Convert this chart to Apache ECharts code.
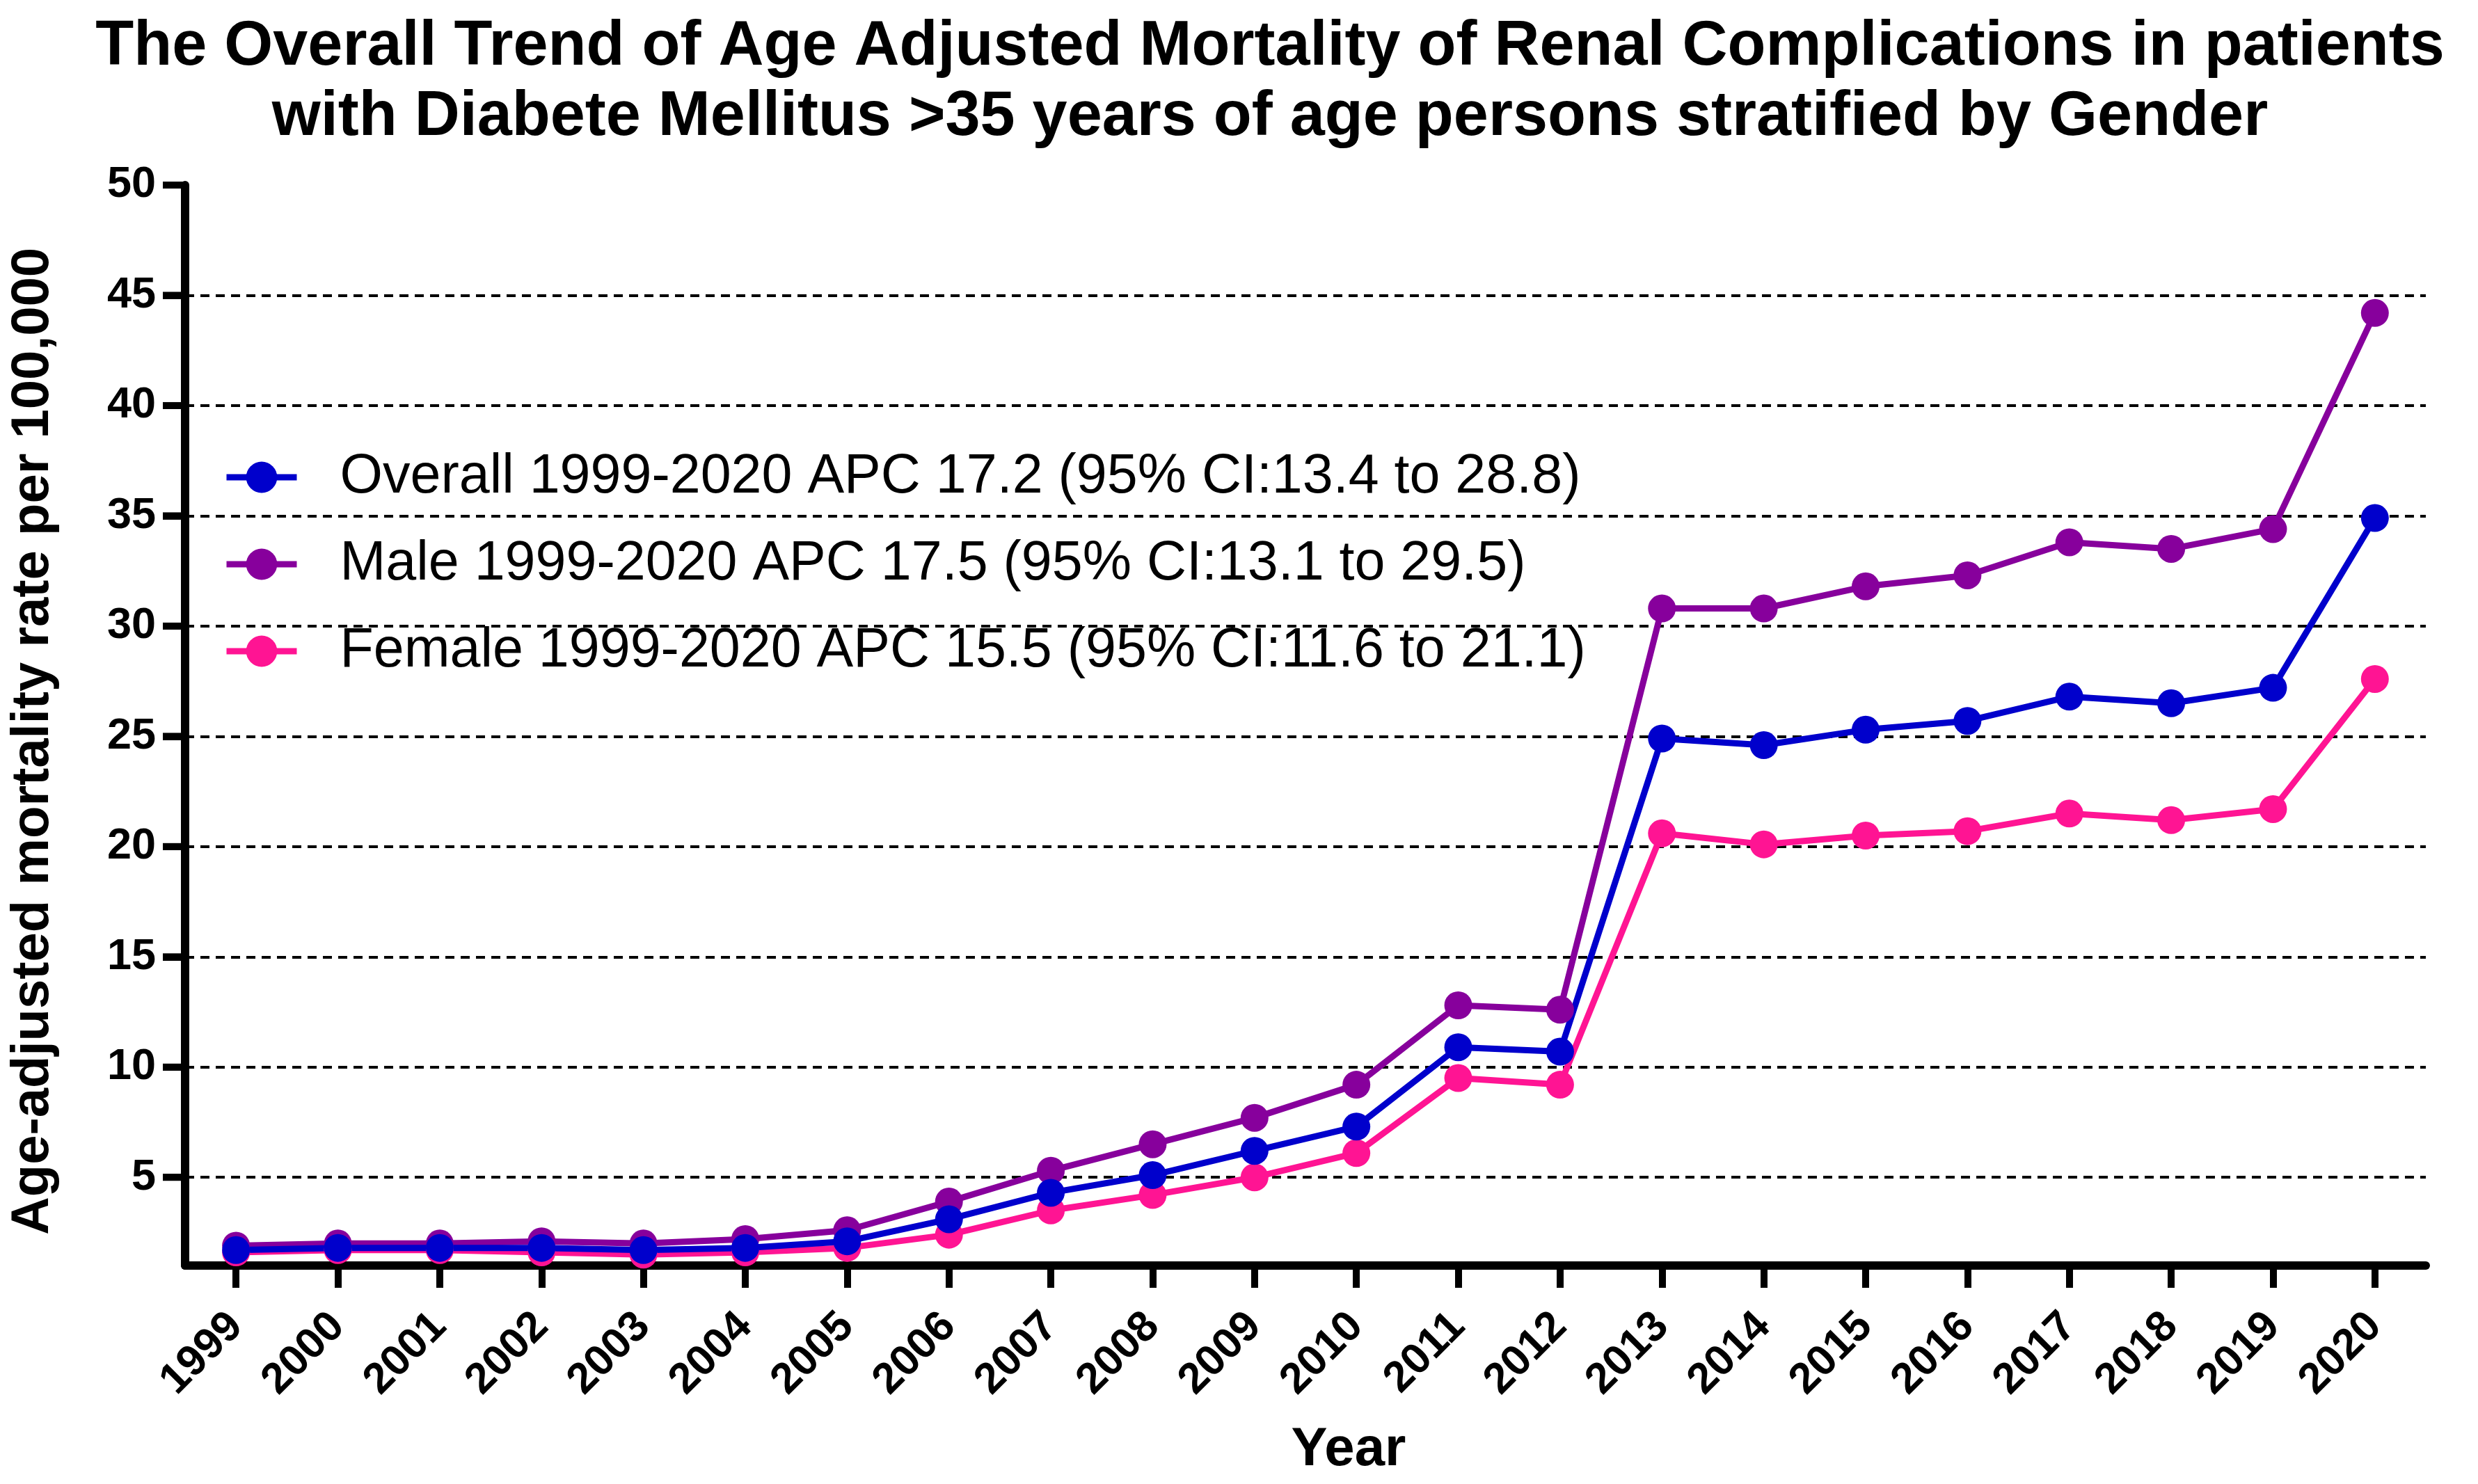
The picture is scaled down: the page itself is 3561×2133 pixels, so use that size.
<!DOCTYPE html>
<html>
<head>
<meta charset="utf-8">
<script src="https://cdn.jsdelivr.net/npm/echarts@6/dist/echarts.min.js"></script>
<style>
html,body{margin:0;padding:0;background:#fff;}
#chart{width:3561px;height:2133px;}
</style>
</head>
<body>
<div id="chart"></div>
<script>
const years = ['1999','2000','2001','2002','2003','2004','2005','2006','2007','2008','2009','2010','2011','2012','2013','2014','2015','2016','2017','2018','2019','2020'];
const overall = [1.7,1.8,1.8,1.8,1.7,1.8,2.1,3.1,4.3,5.1,6.2,7.3,10.9,10.7,24.9,24.6,25.3,25.7,26.8,26.5,27.2,34.9];
const male    = [1.9,2.0,2.0,2.1,2.0,2.2,2.6,3.9,5.3,6.5,7.7,9.2,12.8,12.6,30.8,30.8,31.8,32.3,33.8,33.5,34.4,44.2];
const female  = [1.6,1.7,1.7,1.6,1.5,1.6,1.8,2.4,3.5,4.2,5.0,6.1,9.5,9.2,20.6,20.1,20.5,20.7,21.5,21.2,21.7,27.6];
const yTicks = [5,10,15,20,25,30,35,40,45,50];
const yMin = 1, yMax = 50;
const names = [
  'Overall 1999-2020 APC 17.2 (95% CI:13.4 to 28.8)',
  'Male 1999-2020 APC 17.5 (95% CI:13.1 to 29.5)',
  'Female 1999-2020 APC 15.5 (95% CI:11.6 to 21.1)'
];
const titleLines = [
  'The Overall Trend of Age Adjusted Mortality of Renal Complications in patients',
  'with Diabete Mellitus >35 years of age persons stratified by Gender'
];
const FONT = "'Liberation Sans', Arial, sans-serif";
const GRID_LEFT = 266;
const chart = echarts.init(document.getElementById('chart'), null, {renderer:'canvas', width:3561, height:2133, devicePixelRatio:1});
function mk(name, data, color){
  return {
    name: name, type: 'line', data: data,
    symbol: 'circle', symbolSize: 40,
    itemStyle: {color: color},
    lineStyle: {color: color, width: 9},
    animation: false
  };
}
const titleGraphic = {
  type: 'text', x: 1825, y: 18,
  style: {text: titleLines.join('\n'), fill: '#000', fontSize: 90, fontWeight: 'bold', fontFamily: FONT, lineHeight: 101, align: 'center', verticalAlign: 'top'}
};
chart.setOption({
  backgroundColor: '#ffffff',
  animation: false,
  graphic: [titleGraphic],
  legend: {
    orient: 'vertical', left: 321, top: 646,
    itemWidth: 101, itemHeight: 56, itemGap: 45,
    padding: 0,
    data: names,
    lineStyle: {width: 9},
    textStyle: {fontSize: 79, fontFamily: FONT, color: '#000', lineHeight: 80, padding: [0,0,0,57]}
  },
  grid: {left: GRID_LEFT, right: 75, top: 266, bottom: 314, containLabel: false},
  xAxis: {
    type: 'category', data: years, boundaryGap: true,
    name: 'Year', nameLocation: 'middle', nameGap: 226,
    nameTextStyle: {fontSize: 78, fontWeight: 'bold', fontFamily: FONT, color: '#000', verticalAlign: 'top', padding: [0,0,0,124]},
    axisLine: {show: true, lineStyle: {color: '#000', width: 12}},
    axisTick: {show: true, inside: false, interval: 0, alignWithLabel: true, length: 32, lineStyle: {color: '#000', width: 10}},
    axisLabel: {rotate: 45, margin: 78, interval: 0, fontSize: 62, fontWeight: 'bold', fontFamily: FONT, color: '#000'},
    splitLine: {show: false}
  },
  yAxis: {
    type: 'value', min: yMin, max: yMax, splitNumber: 10,
    name: 'Age-adjusted mortality rate per 100,000', nameLocation: 'middle', nameGap: 180,
    nameTextStyle: {fontSize: 76, fontWeight: 'bold', fontFamily: FONT, color: '#000', padding: [0,46,0,0]},
    axisLine: {show: true, lineStyle: {color: '#000', width: 12}},
    axisTick: {show: true, inside: false, length: 32, lineStyle: {color: '#000', width: 10}},
    axisLabel: {show: true, showMinLabel: false, margin: 42, fontSize: 63, fontWeight: 'bold', fontFamily: FONT, color: '#000'},
    splitLine: {show: true, showMinLine: false, showMaxLine: false, lineStyle: {color: '#000', width: 4, type: [13, 9]}}
  },
  series: [
    mk(names[2], female, '#ff1493'),
    mk(names[1], male, '#87009c'),
    mk(names[0], overall, '#0000cc')
  ]
});
// y-axis tick marks placed through the chart's own y scale
const tickGraphics = yTicks.map(function (v) {
  const y = chart.convertToPixel({yAxisIndex: 0}, v);
  return {
    type: 'rect', silent: true, z: 100,
    shape: {x: GRID_LEFT - 32, y: y - 5, width: 30, height: 10},
    style: {fill: '#000'}
  };
});
chart.setOption({graphic: [titleGraphic].concat(tickGraphics)});
</script>
</body>
</html>
